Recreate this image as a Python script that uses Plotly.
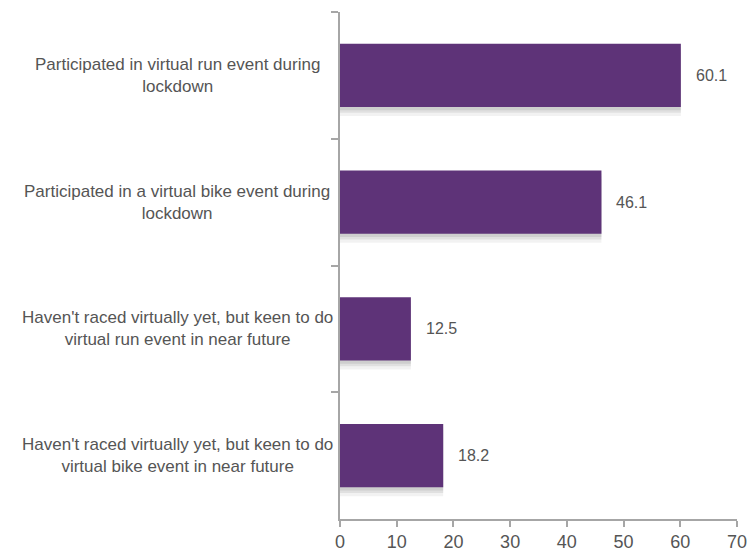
import plotly.graph_objects as go

categories = [
    "Participated in virtual run event during<br>lockdown",
    "Participated in a virtual bike event during<br>lockdown",
    "Haven't raced virtually yet, but keen to do<br>virtual run event in near future",
    "Haven't raced virtually yet, but keen to do<br>virtual bike event in near future",
]
values = [60.1, 46.1, 12.5, 18.2]
x_ticks = [0, 10, 20, 30, 40, 50, 60, 70]

ids = [f"c{i}" for i in range(len(categories))]
bar_color = "#5E3378"
text_color = "#555555"
axis_color = "#A6A6A6"
font_family = "Liberation Sans, Arial, sans-serif"

fig = go.Figure()
# soft drop shadow under bars
for off, alpha in [(0.07, 0.05), (0.045, 0.07), (0.025, 0.08)]:
    fig.add_trace(go.Bar(
        x=values, y=ids, orientation="h", width=0.5, offset=-0.25 + off,
        marker=dict(color=f"rgba(0,0,0,{alpha})", line=dict(width=0)),
        hoverinfo="skip",
    ))
fig.add_trace(go.Bar(
    x=values, y=ids, orientation="h", width=0.5, offset=-0.25,
    marker=dict(color=bar_color, line=dict(width=0)),
    hoverinfo="skip",
))

plot_w = 749 - 340 - 12
label_center_px = 177
annotations = []
for cid, cat in zip(ids, categories):
    annotations.append(dict(
        x=(label_center_px - 340) / plot_w, xref="paper", y=cid, yref="y", text=cat,
        showarrow=False, xanchor="center", yanchor="middle", align="center",
        font=dict(family=font_family, size=17, color=text_color),
    ))
for cid, v in zip(ids, values):
    annotations.append(dict(
        x=v, xref="x", y=cid, yref="y", text=f"{v:.1f}", showarrow=False,
        xanchor="left", yanchor="middle", xshift=13,
        font=dict(family=font_family, size=16, color=text_color),
    ))

fig.update_layout(
    width=749, height=555,
    margin=dict(l=340, r=12, t=12, b=36),
    paper_bgcolor="white", plot_bgcolor="white",
    showlegend=False, barmode="overlay",
    annotations=annotations,
    xaxis=dict(
        range=[0, 70], tickvals=x_ticks, ticktext=[str(t) for t in x_ticks],
        showgrid=False, zeroline=False, showline=True, linecolor=axis_color, linewidth=1.5,
        ticks="outside", ticklen=6, tickcolor=axis_color, tickwidth=1.5,
        tickfont=dict(family=font_family, size=18, color=text_color),
        automargin=False, fixedrange=True,
    ),
    yaxis=dict(
        categoryorder="array", categoryarray=ids, range=[3.5, -0.5],
        showticklabels=False, showgrid=False, zeroline=False,
        showline=True, linecolor=axis_color, linewidth=1.5,
        ticks="outside", tickson="boundaries", ticklen=7, tickcolor=axis_color, tickwidth=1.5,
        automargin=False, fixedrange=True,
    ),
)

fig.write_html("out.html")
